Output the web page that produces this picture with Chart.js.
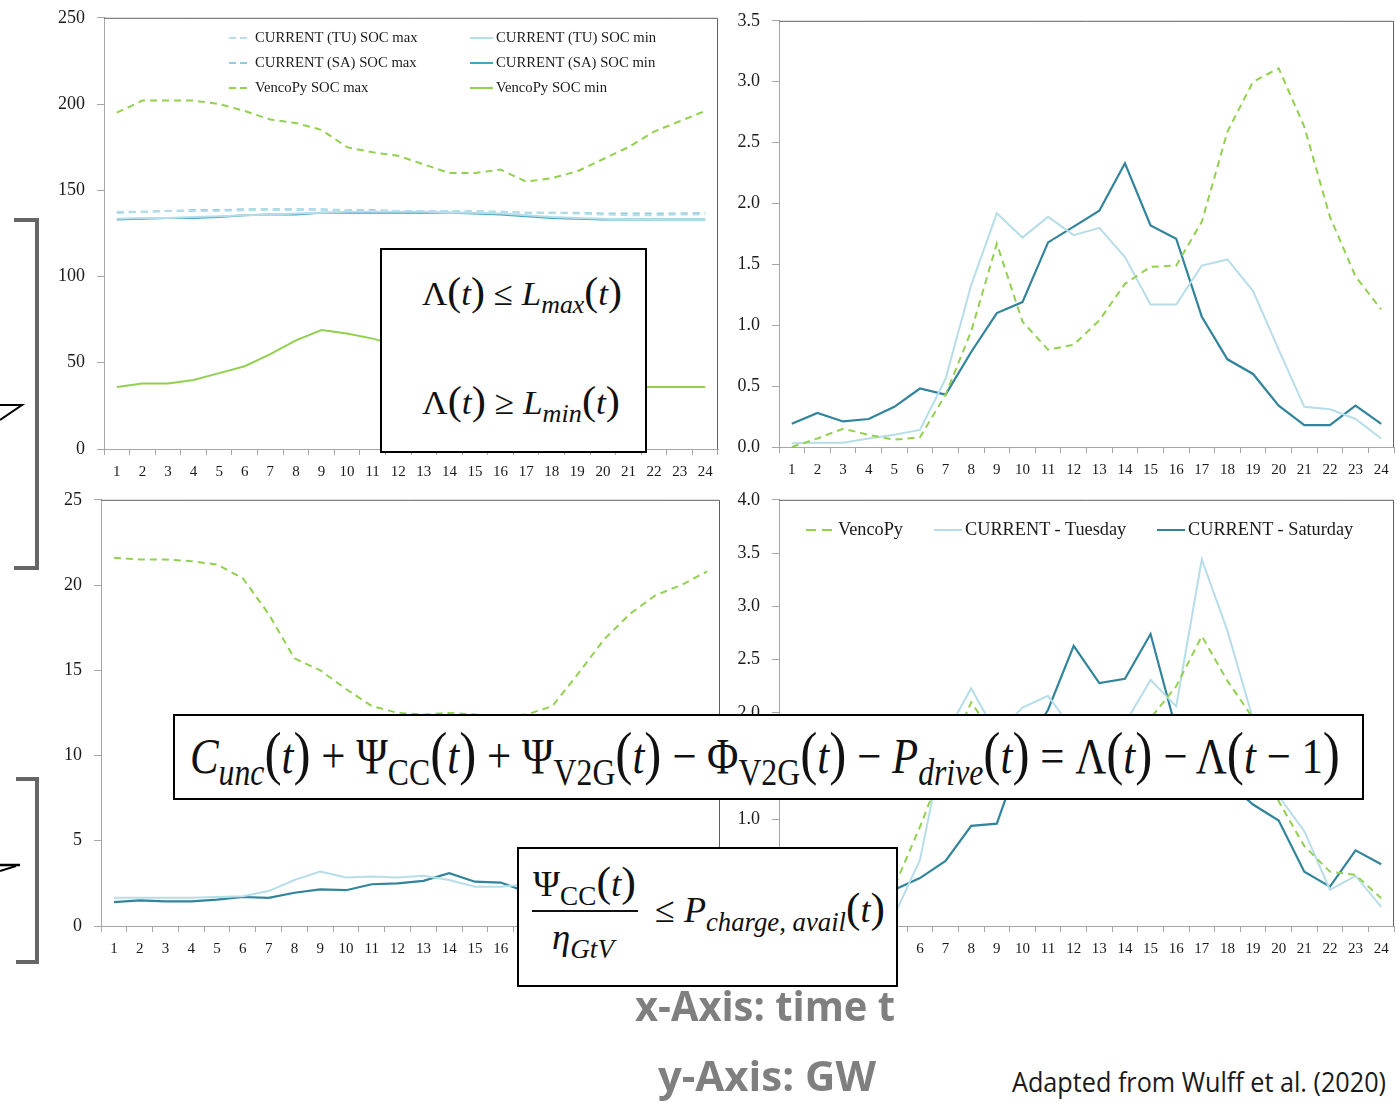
<!DOCTYPE html>
<html>
<head>
<meta charset="utf-8">
<title>VencoPy vs CURRENT</title>
<script src="https://cdn.jsdelivr.net/npm/chart.js@4.4.1/dist/chart.umd.min.js"></script>
<style>
  html, body { margin:0; padding:0; background:#fff; }
  body { position:relative; width:1397px; height:1106px; overflow:hidden; }
  canvas { position:absolute; }
  .box { position:absolute; background:#fff; border:2px solid #000; box-sizing:border-box; }
  .fx { position:absolute; white-space:nowrap; font-family:'Liberation Serif','DejaVu Serif',serif; color:#111; line-height:1.2; transform-origin:0 50%; }
  .fx sub { font-size:0.74em; vertical-align:-0.32em; line-height:0; }
  .fx .p { font-size:1.2em; line-height:0; }
  .lg { position:absolute; white-space:nowrap; font-family:'Liberation Serif',serif; color:#1a1a1a; line-height:1.2; }
  .note { position:absolute; white-space:nowrap; font-family:'Open Sans',sans-serif; line-height:1.2; transform-origin:0 50%; }
</style>
</head>
<body>
<div id="charts"></div>
<svg id="brackets" width="60" height="1000" style="position:absolute;left:0;top:0">
  <path d="M14,220 H37 V568 H14" fill="none" stroke="#666" stroke-width="4"/>
  <path d="M16,779 H37 V962 H16" fill="none" stroke="#666" stroke-width="4"/>
  <path d="M0,405 H22 L0,420" fill="none" stroke="#000" stroke-width="2"/>
  <path d="M0,865 H20" stroke="#000" stroke-width="2.5"/>
  <path d="M0,871 L16,866" stroke="#000" stroke-width="2"/>
</svg>
<div id="legends"></div>

<div class="box" style="left:380px;top:248px;width:267px;height:205px"></div>
<div class="fx" data-w="200" data-fs="34" data-cy="295" style="left:422px">Λ(<i>t</i>) ≤ <i>L</i><sub><i>max</i></sub>(<i>t</i>)</div>
<div class="fx" data-w="198" data-fs="34" data-cy="404" style="left:422px">Λ(<i>t</i>) ≥ <i>L</i><sub><i>min</i></sub>(<i>t</i>)</div>

<div class="box" style="left:173px;top:714px;width:1191px;height:86px"></div>
<div class="fx" data-w="1150" data-fs="50" data-cy="757" style="left:190px"><i>C</i><sub><i>unc</i></sub>(<i>t</i>) + Ψ<sub>CC</sub>(<i>t</i>) + Ψ<sub>V2G</sub>(<i>t</i>) − Φ<sub>V2G</sub>(<i>t</i>) − <i>P</i><sub><i>drive</i></sub>(<i>t</i>) = Λ(<i>t</i>) − Λ(<i>t</i> − 1)</div>

<div class="box" style="left:517px;top:847px;width:381px;height:140px"></div>
<div class="fx" data-w="103" data-fs="36" data-cy="885" style="left:533px">Ψ<sub>CC</sub>(<i>t</i>)</div>
<div style="position:absolute;left:532px;top:910px;width:106px;height:2px;background:#111"></div>
<div class="fx" data-w="62" data-fs="36" data-cy="938" style="left:552px"><i>η</i><sub><i>GtV</i></sub></div>
<div class="fx" data-w="230" data-fs="36" data-cy="911" style="left:655px">≤ <i>P</i><sub><i>charge, avail</i></sub>(<i>t</i>)</div>

<div class="note" data-w="260" data-fs="42" data-cy="1006" style="left:635px;font-weight:700;color:#7f7f7f">x-Axis: time t</div>
<div class="note" data-w="218" data-fs="42" data-cy="1076" style="left:658px;font-weight:700;color:#7f7f7f">y-Axis: GW</div>
<div class="note" data-w="374" data-fs="28" data-cy="1082" style="left:1012px;color:#1a1a1a">Adapted from Wulff et al. (2020)</div>

<script>
// hours of the day
const hours = ['1','2','3','4','5','6','7','8','9','10','11','12','13','14','15','16','17','18','19','20','21','22','23','24'];

// top left: state of charge bounds
const tuSocMax = [137.5,137.5,138,138,138,138.5,138.5,138.5,138.5,138.5,138,138,138,138,138,137.5,137,137,136.5,136,135.5,135.5,136,136];
const tuSocMin = [133.5,134,134,134.5,135,135.5,136,136.5,137,137.5,137.5,137.5,137.5,137,137,136.5,135.5,134.5,134,133.5,133,133,133,133];
const saSocMax = [137,137.5,138,138.5,138.5,139,139,139,139,138.5,138.5,138,138,138,137.5,137.5,137,137,137,136.5,136.5,136.5,136.5,137];
const saSocMin = [133,133.5,134,134,134.5,135.5,136,136,137,137,137,137,137,137,136.5,136,135,134,133.5,133,133,133,133,133];
const vencoSocMax = [195,202,202,202,200,196,191,189,185,175,172,170,165,160,160,162,155,157,161,168,175,184,190,196];
const vencoSocMin = [36,38,38,40,44,48,55,63,69,67,64,60,55,50,46,43,40,38,37,36,36,36,36,36];

// top right
const vencoP2 = [0.00,0.07,0.15,0.10,0.06,0.08,0.43,0.95,1.67,1.03,0.80,0.84,1.04,1.34,1.48,1.49,1.85,2.59,3.00,3.11,2.63,1.89,1.40,1.13];
const tueP2 = [0.03,0.035,0.035,0.07,0.10,0.14,0.56,1.33,1.92,1.72,1.89,1.74,1.80,1.56,1.17,1.17,1.49,1.54,1.28,0.80,0.33,0.31,0.23,0.07];
const satP2 = [0.19,0.28,0.21,0.23,0.33,0.48,0.43,0.78,1.10,1.19,1.68,1.81,1.94,2.33,1.82,1.71,1.07,0.72,0.60,0.34,0.18,0.18,0.34,0.19];

// bottom left
const vencoP3 = [21.6,21.5,21.5,21.4,21.2,20.4,18.3,15.7,15.0,13.9,12.9,12.5,12.4,12.5,12.4,12.3,12.4,12.9,14.8,16.8,18.3,19.4,20.0,20.8];
const tueP3 = [1.65,1.65,1.65,1.65,1.7,1.75,2.05,2.7,3.2,2.85,2.9,2.85,2.95,2.7,2.3,2.3,2.45,2.3,2.1,2.0,1.9,1.8,1.7,1.7];
const satP3 = [1.4,1.5,1.45,1.45,1.55,1.7,1.65,1.95,2.15,2.1,2.45,2.5,2.65,3.1,2.6,2.55,2.0,1.9,1.8,1.7,1.6,1.5,1.5,1.4];

// bottom right
const vencoP4 = [0.02,0.08,0.15,0.10,0.37,0.93,1.55,2.10,1.75,1.65,1.55,1.50,1.60,1.70,1.95,2.25,2.72,2.30,1.95,1.17,0.75,0.51,0.48,0.26];
const tueP4 = [0.03,0.03,0.04,0.07,0.10,0.62,1.80,2.23,1.80,2.05,2.16,1.83,1.80,1.90,2.31,2.06,3.44,2.77,1.94,1.22,0.89,0.34,0.47,0.18];
const satP4 = [0.20,0.25,0.20,0.22,0.34,0.45,0.61,0.94,0.96,1.64,2.03,2.63,2.28,2.32,2.74,1.84,1.60,1.35,1.14,0.99,0.51,0.37,0.71,0.58];

const GREEN = '#92d050', LIGHT = '#b7dde8', MID = '#93cddd', SA = '#3fa5c4', TEAL = '#31849b';
const AXIS = '#a6a6a6', FRAME = '#606060', SERIF = "'Liberation Serif', serif";

const Y_W = 70, X_H = 44, PAD_R = 6;

const frame = {
  id: 'frame',
  afterDraw(c) {
    const { ctx, chartArea: a } = c;
    ctx.save();
    ctx.strokeStyle = FRAME;
    ctx.lineWidth = 1;
    ctx.beginPath();
    ctx.moveTo(a.left, a.top + 0.5);
    ctx.lineTo(a.right - 0.5, a.top + 0.5);
    ctx.lineTo(a.right - 0.5, a.bottom);
    ctx.stroke();
    ctx.restore();
  }
};

function config(p) {
  return {
    type: 'line',
    data: {
      labels: hours,
      datasets: p.sets.map(s => ({
        label: s.label, data: s.data, borderColor: s.color,
        borderWidth: s.width || 2, borderDash: s.dash ? [7, 5] : [],
        pointRadius: 0, tension: 0, fill: false
      }))
    },
    options: {
      responsive: false, maintainAspectRatio: false, animation: false, devicePixelRatio: 1,
      layout: { padding: { top: 0, right: PAD_R, left: 0, bottom: 0 } },
      plugins: { legend: { display: false }, tooltip: { enabled: false } },
      scales: {
        x: {
          offset: true,
          grid: { offset: true, drawOnChartArea: false, tickLength: 6, color: AXIS },
          border: { color: AXIS },
          ticks: { color: '#1a1a1a', font: { family: SERIF, size: 15 }, padding: 8, maxRotation: 0, autoSkip: false },
          afterFit: s => { s.height = X_H; }
        },
        y: {
          min: 0, max: p.max,
          grid: { drawOnChartArea: false, tickLength: 7, color: AXIS },
          border: { color: AXIS },
          ticks: { stepSize: p.step, color: '#1a1a1a', font: { family: SERIF, size: 18 }, padding: 12,
                   callback: v => v.toFixed(p.dec) },
          afterFit: s => { s.width = Y_W; }
        }
      }
    },
    plugins: [frame]
  };
}

// first pass measures the margins round the plot area, second pass draws it at its place
function panel(p) {
  const cv = document.createElement('canvas');
  document.getElementById('charts').appendChild(cv);
  let w = Y_W + p.plot.w + PAD_R, h = 40 + p.plot.h + X_H;
  cv.width = w; cv.height = h;
  cv.style.width = w + 'px'; cv.style.height = h + 'px';
  let ch = new Chart(cv, config(p));
  const a = ch.chartArea;
  const mL = a.left, mT = a.top, mR = w - a.right, mB = h - a.bottom;
  ch.destroy();
  w = Math.round(mL + p.plot.w + mR);
  h = Math.round(mT + p.plot.h + mB);
  cv.width = w; cv.height = h;
  cv.style.width = w + 'px'; cv.style.height = h + 'px';
  cv.style.left = (p.plot.x - mL) + 'px';
  cv.style.top = (p.plot.y - mT) + 'px';
  new Chart(cv, config(p));
}

const p1 = [
  { label: 'CURRENT (TU) SOC max', data: tuSocMax, color: LIGHT, dash: true },
  { label: 'CURRENT (TU) SOC min', data: tuSocMin, color: LIGHT },
  { label: 'CURRENT (SA) SOC max', data: saSocMax, color: MID, dash: true },
  { label: 'CURRENT (SA) SOC min', data: saSocMin, color: SA },
  { label: 'VencoPy SOC max', data: vencoSocMax, color: GREEN, dash: true },
  { label: 'VencoPy SOC min', data: vencoSocMin, color: GREEN }
];
const trio = (v, t, s) => [
  { label: 'VencoPy', data: v, color: GREEN, dash: true },
  { label: 'CURRENT - Tuesday', data: t, color: LIGHT },
  { label: 'CURRENT - Saturday', data: s, color: TEAL, width: 2.2 }
];
const p4 = trio(vencoP4, tueP4, satP4);

panel({ plot: { x: 104, y: 18, w: 614, h: 431 }, max: 250, step: 50, dec: 0, sets: p1 });
panel({ plot: { x: 779, y: 21, w: 615, h: 426 }, max: 3.5, step: 0.5, dec: 1, sets: trio(vencoP2, tueP2, satP2) });
panel({ plot: { x: 101, y: 500, w: 619, h: 426 }, max: 25, step: 5, dec: 0, sets: trio(vencoP3, tueP3, satP3) });
panel({ plot: { x: 779, y: 500, w: 615, h: 426 }, max: 4, step: 0.5, dec: 1, sets: p4 });

// html legends placed inside the plot areas
function legendItem(s, x1, x2, tx, cy, size, dash) {
  const host = document.getElementById('legends');
  const ns = 'http://www.w3.org/2000/svg';
  const svg = document.createElementNS(ns, 'svg');
  svg.setAttribute('width', x2 - x1); svg.setAttribute('height', 4);
  svg.style.cssText = `position:absolute;left:${x1}px;top:${cy - 2}px`;
  const ln = document.createElementNS(ns, 'line');
  ln.setAttribute('x1', 0); ln.setAttribute('y1', 2);
  ln.setAttribute('x2', x2 - x1); ln.setAttribute('y2', 2);
  ln.setAttribute('stroke', s.color); ln.setAttribute('stroke-width', 2);
  if (s.dash) ln.setAttribute('stroke-dasharray', dash);
  svg.appendChild(ln);
  host.appendChild(svg);
  const t = document.createElement('div');
  t.className = 'lg';
  t.textContent = s.label;
  t.style.cssText = `left:${tx}px;top:${cy - 0.62 * size}px;font-size:${size}px`;
  host.appendChild(t);
}
const rows = [38, 63, 88];
p1.forEach((s, i) => {
  const col = i % 2, row = Math.floor(i / 2);
  if (col === 0) legendItem(s, 229, 251, 255, rows[row], 14.7, '7,4');
  else legendItem(s, 470, 493, 496, rows[row], 14.7, '7,4');
});
legendItem(p4[0], 806, 833, 838, 530, 18.3, '10,6');
legendItem(p4[1], 934, 962, 965, 530, 18.3, '10,6');
legendItem(p4[2], 1157, 1185, 1188, 530, 18.3, '10,6');

// taller parentheses in the formulas, then fit every text to its width
document.querySelectorAll('.fx').forEach(el => {
  el.innerHTML = el.innerHTML.replace(/[()]/g, m => `<span class="p">${m}</span>`);
});
document.querySelectorAll('[data-w]').forEach(el => {
  const fs = +el.dataset.fs;
  el.style.fontSize = fs + 'px';
  el.style.top = (+el.dataset.cy - 0.62 * fs) + 'px';
  const w = el.getBoundingClientRect().width;
  el.style.transform = `scaleX(${(+el.dataset.w / w).toFixed(4)})`;
});
</script>
</body>
</html>
